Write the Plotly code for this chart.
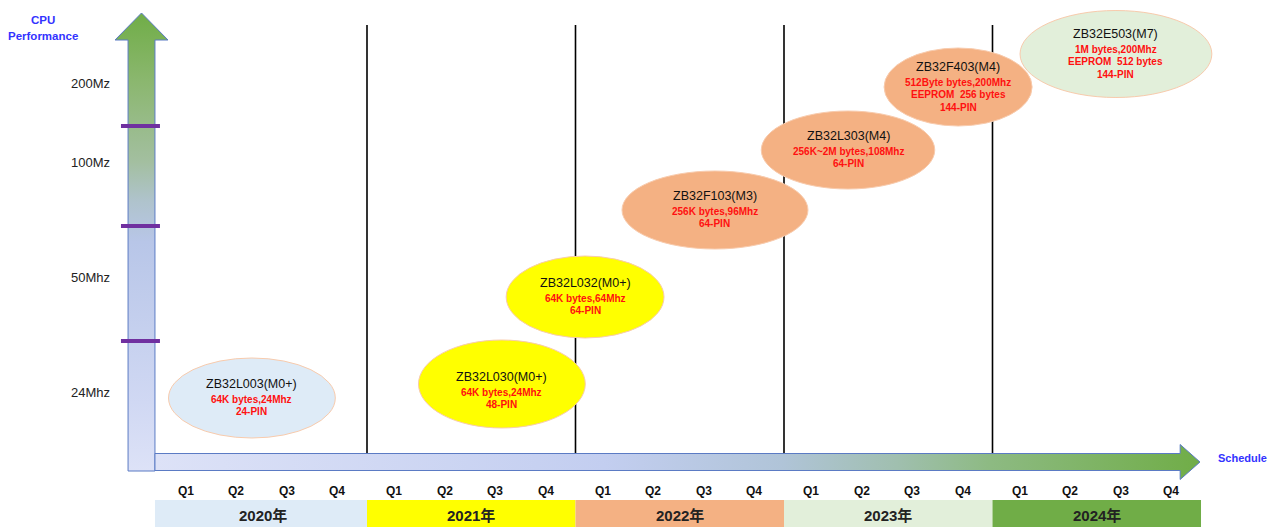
import plotly.graph_objects as go

# ---------------- data ----------------
years = ["2020年", "2021年", "2022年", "2023年", "2024年"]
year_start = [0, 1, 2, 3, 4]          # years since 2020 Q1
quarters = ["Q1", "Q2", "Q3", "Q4"]
year_dividers = [1, 2, 3, 4]

products = ["ZB32L003(M0+)", "ZB32L030(M0+)", "ZB32L032(M0+)", "ZB32F103(M3)",
            "ZB32L303(M4)", "ZB32F403(M4)", "ZB32E503(M7)"]
product_specs = [
    ["64K bytes,24Mhz", "24-PIN"],
    ["64K bytes,24Mhz", "48-PIN"],
    ["64K bytes,64Mhz", "64-PIN"],
    ["256K bytes,96Mhz", "64-PIN"],
    ["256K~2M bytes,108Mhz", "64-PIN"],
    ["512Byte bytes,200Mhz", "EEPROM  256 bytes", "144-PIN"],
    ["1M bytes,200Mhz", "EEPROM  512 bytes", "144-PIN"],
]
product_time = [0.448, 1.647, 2.046, 2.669, 3.307, 3.835, 4.592]   # schedule position (years)
product_level = [0.64, 0.78, 1.65, 2.52, 3.12, 3.75, 4.08]         # CPU performance position

perf_labels = ["24Mhz", "50Mhz", "100Mz", "200Mz"]
perf_label_level = [0.70, 1.85, 3.00, 3.79]
perf_divider_level = [1.21, 2.36, 3.36]

# ---------------- styles ----------------
year_colors = ["#DEEBF7", "#FFFF00", "#F4B183", "#E2EFDA", "#70AD47"]
product_colors = ["#DEEBF7", "#FFFF00", "#FFFF00", "#F4B183", "#F4B183", "#F4B183", "#E2EFDA"]
ellipse_w = [0.80, 0.80, 0.757, 0.892, 0.832, 0.71, 0.92]
ellipse_h = [0.80, 0.88, 0.82, 0.78, 0.78, 0.78, 0.87]
text_dy = [0, -7, 0, 0, 0, 0, 0]      # pixel nudge of the text block inside each ellipse

FONT = "Liberation Sans, Arial, Noto Sans CJK SC, sans-serif"
X_RANGE = [-0.7602, 5.3405]
Y_RANGE = [-0.65, 4.62]

# arrow geometry (axis units)
AX_BODY = 0.085          # half thickness of schedule arrow body
AX_HEAD = 0.175
AX_END = 4.900
AX_TIP = 4.995
V_LEFT, V_RIGHT = -0.146, -0.017
V_HEAD_HALF = 0.127
V_HEAD_BASE = 4.22
V_TIP = 4.49
BOTTOM = -0.09
BAND_LEFT = -0.017

fig = go.Figure()

# vertical (performance) arrow
vc = (V_LEFT + V_RIGHT) / 2
vx = [V_LEFT, V_RIGHT, V_RIGHT, vc + V_HEAD_HALF, vc, vc - V_HEAD_HALF, V_LEFT, V_LEFT]
vy = [BOTTOM, BOTTOM, V_HEAD_BASE, V_HEAD_BASE, V_TIP, V_HEAD_BASE, V_HEAD_BASE, BOTTOM]
fig.add_trace(go.Scatter(
    x=vx, y=vy, mode="lines", fill="toself", hoverinfo="skip",
    line=dict(color="#5B7BC4", width=1),
    fillgradient=dict(type="vertical", start=BOTTOM, stop=V_TIP,
                      colorscale=[[0, "#DDE2F7"], [0.15, "#D0D8F3"], [0.50, "#B8C6E8"],
                                  [0.59, "#AFC3CC"], [0.675, "#A3BFA0"], [0.85, "#8BB76F"],
                                  [1, "#70AD47"]]),
    showlegend=False))

# horizontal (schedule) arrow
hx = [V_RIGHT, AX_END, AX_END, AX_TIP, AX_END, AX_END, V_RIGHT, V_RIGHT]
hy = [-AX_BODY, -AX_BODY, -AX_HEAD, 0, AX_HEAD, AX_BODY, AX_BODY, -AX_BODY]
fig.add_trace(go.Scatter(
    x=hx, y=hy, mode="lines", fill="toself", hoverinfo="skip",
    line=dict(color="#5B7BC4", width=1),
    fillgradient=dict(type="horizontal", start=V_RIGHT, stop=AX_TIP,
                      colorscale=[[0, "#DDE2F7"], [0.43, "#C3CEF0"], [0.6, "#B0C4D8"],
                                  [0.71, "#A0BFAF"], [0.8, "#8DBA82"], [1, "#70AD47"]]),
    showlegend=False))

shapes = []
annotations = []

# year bands + labels
for i, (yr, x0, col) in enumerate(zip(years, year_start, year_colors)):
    shapes.append(dict(type="rect", xref="x", yref="y",
                       x0=BAND_LEFT if i == 0 else x0, x1=x0 + 1,
                       y0=Y_RANGE[0], y1=-0.38, fillcolor=col, line=dict(width=0),
                       layer="below"))
    annotations.append(dict(x=x0 + 0.5, y=-0.535, text=yr, showarrow=False,
                            font=dict(family=FONT, size=15, color="#222222", weight="bold")))
    for qi, q in enumerate(quarters):
        annotations.append(dict(x=x0 + 0.13 + 0.2425 * qi, y=-0.285, text=q, showarrow=False,
                                font=dict(family=FONT, size=12, color="#111111", weight="bold")))

# vertical year dividers
for xd in year_dividers:
    shapes.append(dict(type="line", xref="x", yref="y", x0=xd, x1=xd, y0=AX_BODY, y1=4.37,
                       line=dict(color="#000000", width=1.6), layer="below"))

# performance dividers on the arrow
for lv in perf_divider_level:
    shapes.append(dict(type="line", xref="x", yref="y", x0=-0.180, x1=0.007, y0=lv, y1=lv,
                       line=dict(color="#7030A0", width=4), layer="above"))

# performance labels
for lab, lv in zip(perf_labels, perf_label_level):
    annotations.append(dict(x=-0.328, y=lv, text=lab, showarrow=False,
                            font=dict(family=FONT, size=13, color="#222222")))

# axis titles
annotations.append(dict(x=-0.554, y=4.42, text="CPU", showarrow=False,
                        font=dict(family=FONT, size=11.5, color="#3333FF", weight="bold")))
annotations.append(dict(x=-0.554, y=4.26, text="Performance", showarrow=False,
                        font=dict(family=FONT, size=11.5, color="#3333FF", weight="bold")))
annotations.append(dict(x=5.20, y=0.04, text="Schedule", showarrow=False,
                        font=dict(family=FONT, size=11, color="#3333FF", weight="bold")))

# product ellipses + text
for name, specs, t, lv, col, w, h, dy in zip(products, product_specs, product_time,
                                             product_level, product_colors, ellipse_w,
                                             ellipse_h, text_dy):
    shapes.append(dict(type="circle", xref="x", yref="y", x0=t - w / 2, x1=t + w / 2,
                       y0=lv - h / 2, y1=lv + h / 2, fillcolor=col,
                       line=dict(color="#F8CBAD", width=1), layer="above"))
    n = len(specs)
    top = (15 + 12.5 * (n - 1)) / 2 + dy
    annotations.append(dict(x=t, y=lv, text=name, showarrow=False, yshift=top,
                            font=dict(family=FONT, size=12.5, color="#111111")))
    for i, s in enumerate(specs):
        annotations.append(dict(x=t, y=lv, text=s, showarrow=False,
                                yshift=top - 15 - 12.5 * i,
                                font=dict(family=FONT, size=10, color="#FF1010", weight="bold")))

fig.update_layout(
    width=1272, height=527, autosize=False,
    margin=dict(l=0, r=0, t=0, b=0, pad=0),
    paper_bgcolor="white", plot_bgcolor="white",
    xaxis=dict(range=X_RANGE, visible=False, fixedrange=True),
    yaxis=dict(range=Y_RANGE, visible=False, fixedrange=True),
    shapes=shapes, annotations=annotations, showlegend=False,
)

fig.write_html("out.html", config={"displayModeBar": False},
               post_script="document.body.style.margin='0';")
